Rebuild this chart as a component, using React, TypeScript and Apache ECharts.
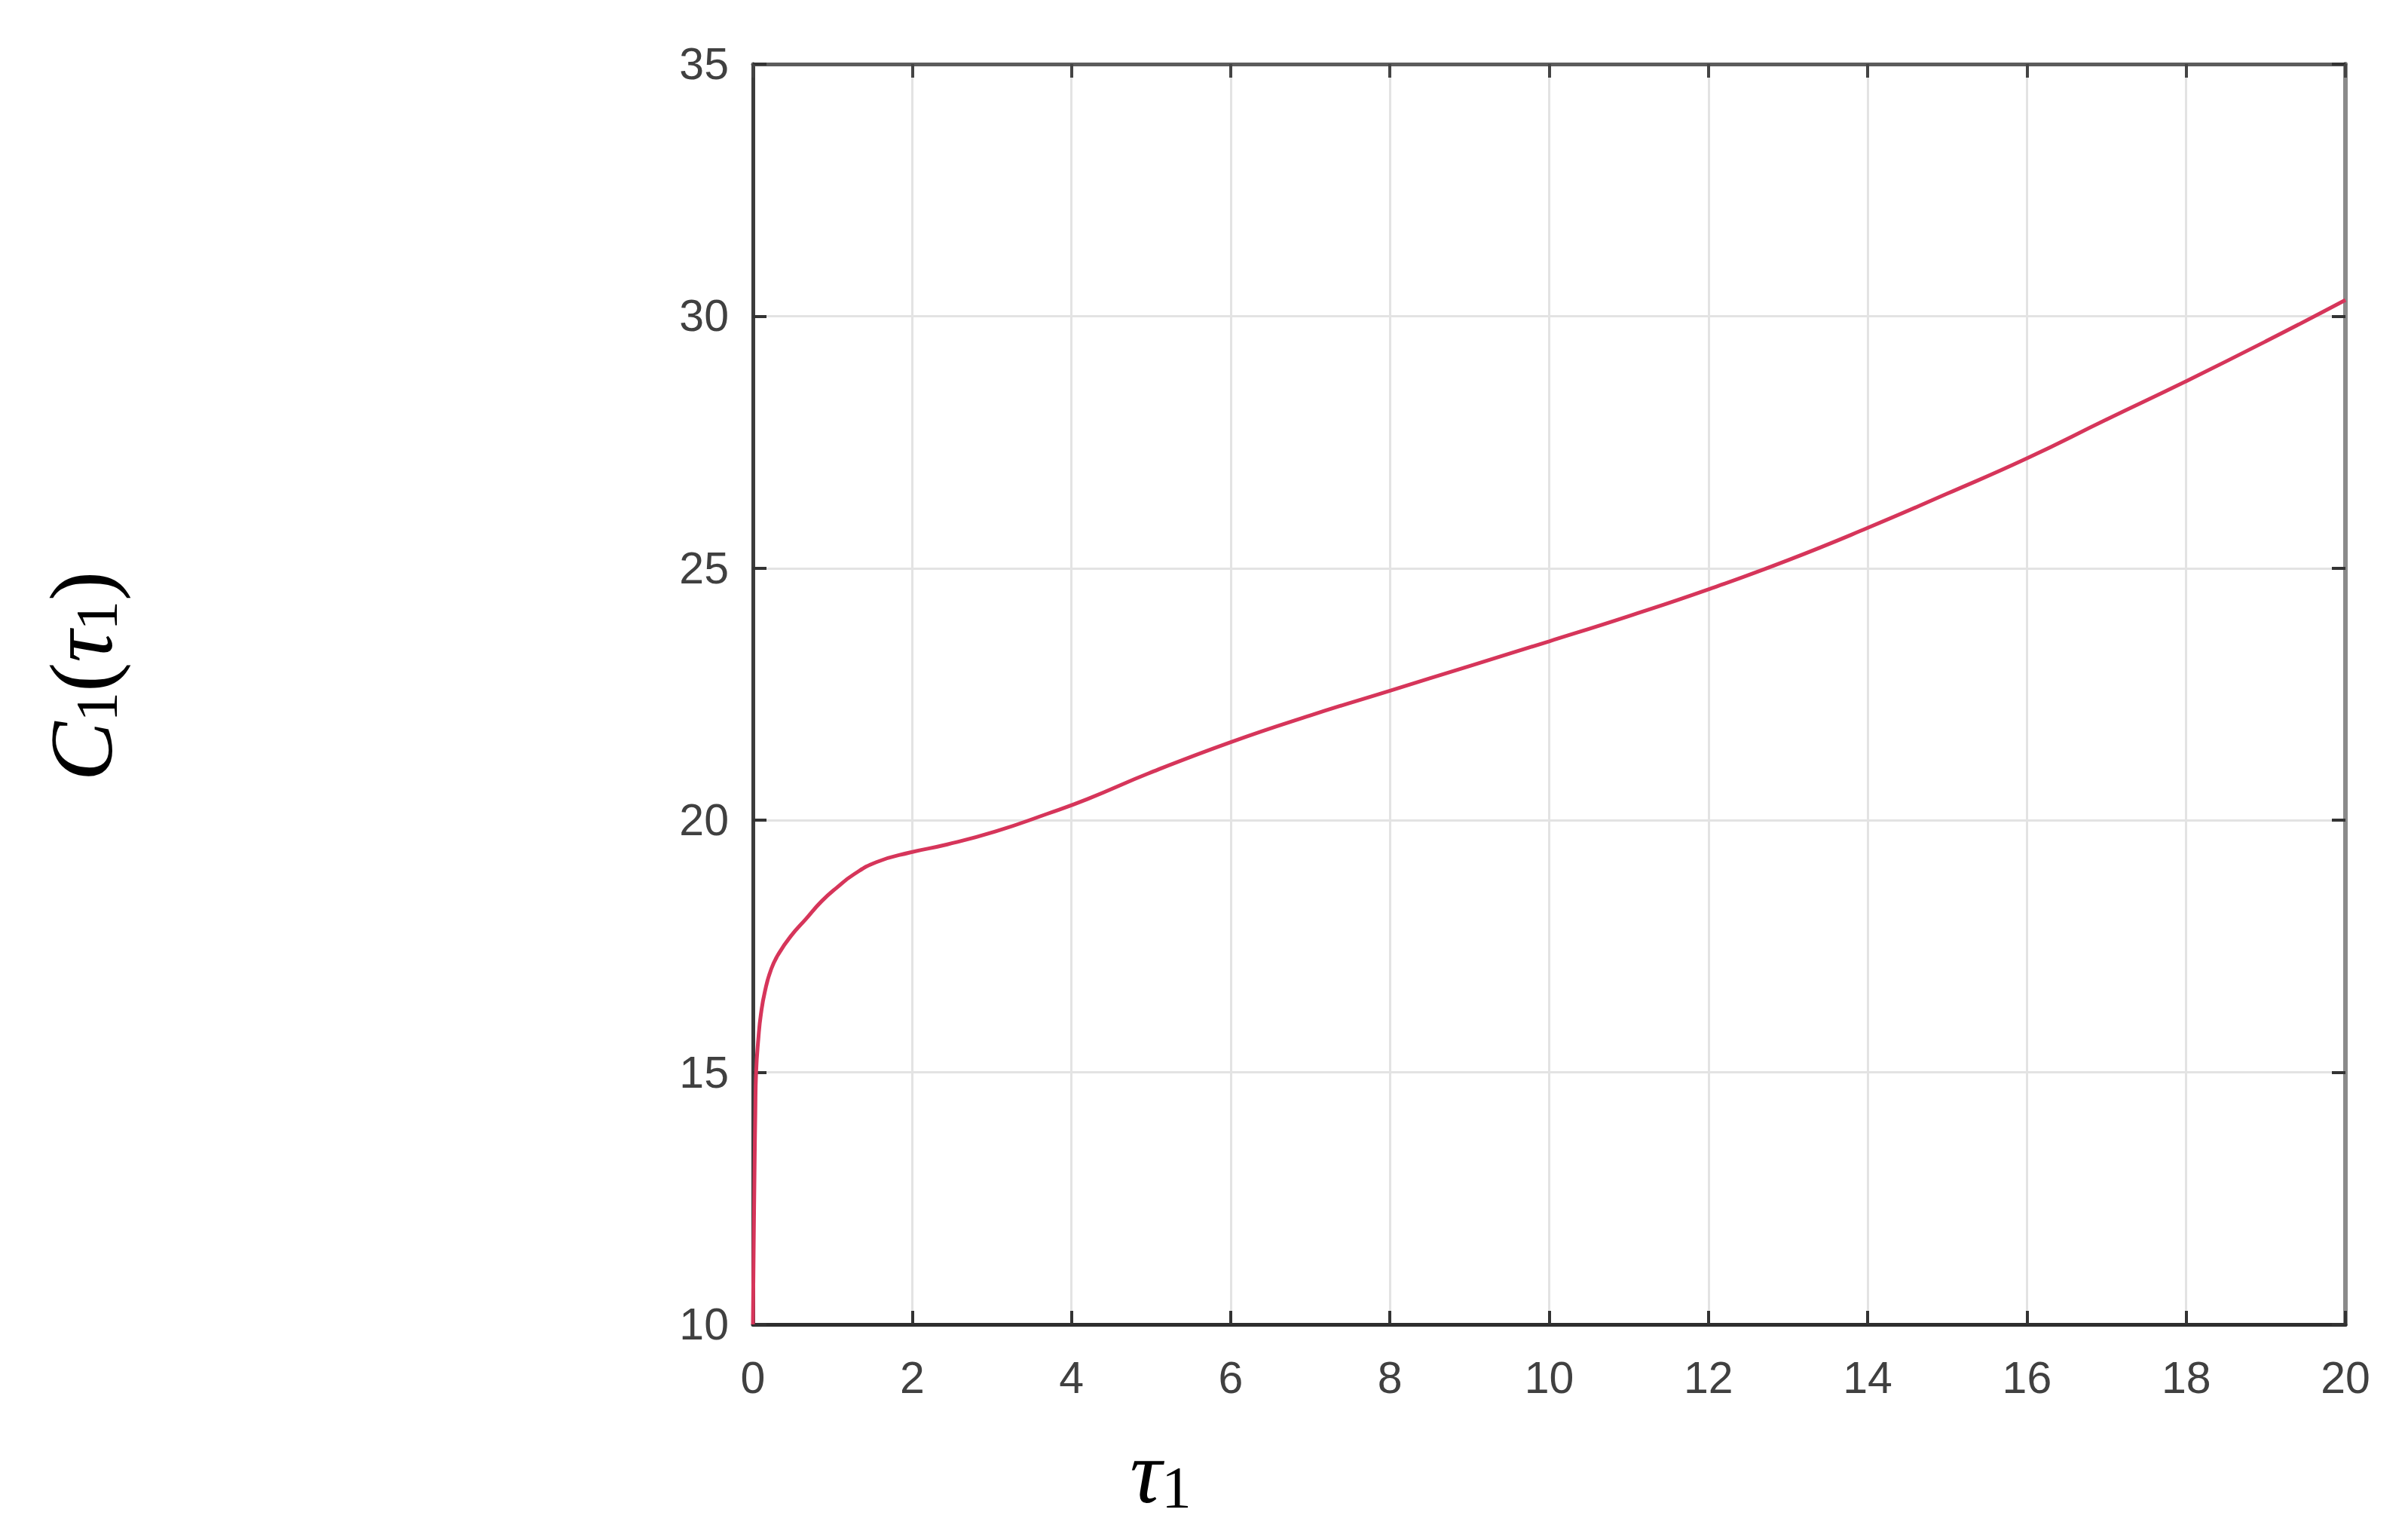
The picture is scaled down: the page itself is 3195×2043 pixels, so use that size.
import React, { useEffect, useRef } from "react";
import * as echarts from "echarts";

const xTickLabels = ["0", "2", "4", "6", "8", "10", "12", "14", "16", "18", "20"];
const yTickLabels = ["10", "15", "20", "25", "30", "35"];

const tauValues = [
  0, 0.01, 0.02, 0.03, 0.04, 0.07, 0.1, 0.15, 0.23, 0.33, 0.48, 0.67, 0.86, 1.05, 1.27, 1.55, 1.97,
  2.44, 3.05, 3.7, 4.2, 5, 6, 7, 8, 9, 10, 11, 12, 13, 14, 15, 16, 17, 18, 19, 20,
];
const c1Values = [
  10, 11.6, 13.0, 14.2, 15.0, 15.7, 16.15, 16.6, 17.05, 17.37, 17.71, 18.05, 18.39, 18.66, 18.93,
  19.17, 19.36, 19.52, 19.78, 20.13, 20.42, 20.95, 21.55, 22.08, 22.57, 23.06, 23.55, 24.05, 24.58,
  25.16, 25.8, 26.48, 27.18, 27.95, 28.71, 29.5, 30.32,
];

const xAxisName = { main: "τ", sub: "1" };
const yAxisName = ["C", "1", "(", "τ", "1", ")"];

export default function App() {
  const ref = useRef<HTMLDivElement>(null);

  useEffect(() => {
    if (!ref.current) return;
    const chart = echarts.init(ref.current, null, { renderer: "svg" });
    const data = tauValues.map((t, i) => [t, c1Values[i]]);
    const labelFont = {
      fontFamily: "Liberation Sans",
      fontSize: 59,
      color: "#404040",
    };
    const serif = "Liberation Serif";
    const rich = {
      i: { fontFamily: serif, fontStyle: "italic", fontSize: 118, lineHeight: 118, fill: "#000" },
      u: { fontFamily: serif, fontSize: 118, lineHeight: 118, fill: "#000" },
      s: {
        fontFamily: serif,
        fontSize: 79,
        lineHeight: 80,
        verticalAlign: "bottom",
        fill: "#000",
      },
    };
    const yName =
      `{i|${yAxisName[0]}}{s|${yAxisName[1]}}{u|${yAxisName[2]}}` +
      `{i|${yAxisName[3]}}{s|${yAxisName[4]}}{u|${yAxisName[5]}}`;
    const xName = `{i|${xAxisName.main}}{s|${xAxisName.sub}}`;

    chart.setOption({
      animation: false,
      backgroundColor: "#ffffff",
      grid: { left: 999, right: 83, top: 85, bottom: 286, containLabel: false },
      xAxis: [
        {
          type: "value",
          min: 0,
          max: 20,
          interval: 2,
          position: "bottom",
          axisLine: { show: true, onZero: false, lineStyle: { color: "#2e2e2e", width: 5 } },
          axisTick: { show: true, inside: true, length: 18, lineStyle: { color: "#333", width: 4 } },
          axisLabel: {
            ...labelFont,
            margin: 41,
            formatter: (v: number) => xTickLabels[Math.round(v / 2)] ?? "",
          },
          splitLine: { show: true, lineStyle: { color: "#e3e3e3", width: 3 } },
        },
        {
          type: "value",
          min: 0,
          max: 20,
          interval: 2,
          position: "top",
          axisLine: { show: true, onZero: false, lineStyle: { color: "#5c5c5c", width: 5 } },
          axisTick: { show: true, inside: true, length: 18, lineStyle: { color: "#444", width: 4 } },
          axisLabel: { show: false },
          splitLine: { show: false },
        },
      ],
      yAxis: [
        {
          type: "value",
          min: 10,
          max: 35,
          interval: 5,
          position: "left",
          axisLine: { show: true, onZero: false, lineStyle: { color: "#3c3c3c", width: 5 } },
          axisTick: { show: true, inside: true, length: 18, lineStyle: { color: "#333", width: 4 } },
          axisLabel: {
            ...labelFont,
            margin: 32,
            formatter: (v: number) => yTickLabels[Math.round((v - 10) / 5)] ?? "",
          },
          splitLine: { show: true, lineStyle: { color: "#e3e3e3", width: 3 } },
        },
        {
          type: "value",
          min: 10,
          max: 35,
          interval: 5,
          position: "right",
          axisLine: { show: true, onZero: false, lineStyle: { color: "#8a8a8a", width: 6 } },
          axisTick: { show: true, inside: true, length: 18, lineStyle: { color: "#333", width: 4 } },
          axisLabel: { show: false },
          splitLine: { show: false },
        },
      ],
      series: [
        {
          type: "line",
          xAxisIndex: 0,
          yAxisIndex: 0,
          data,
          showSymbol: false,
          smooth: 0.5,
          clip: true,
          lineStyle: { color: "#d6355a", width: 5 },
          z: 5,
        },
      ],
      graphic: [
        {
          type: "text",
          x: 1540,
          y: 1953,
          style: { text: xName, rich, align: "center", verticalAlign: "middle" },
        },
        {
          type: "text",
          x: 108,
          y: 897,
          rotation: Math.PI / 2,
          style: { text: yName, rich, align: "center", verticalAlign: "middle" },
        },
      ],
    });
    return () => chart.dispose();
  }, []);

  return (
    <div
      ref={ref}
      style={{ position: "fixed", left: 0, top: 0, width: 3195, height: 2043, background: "#fff" }}
    />
  );
}
